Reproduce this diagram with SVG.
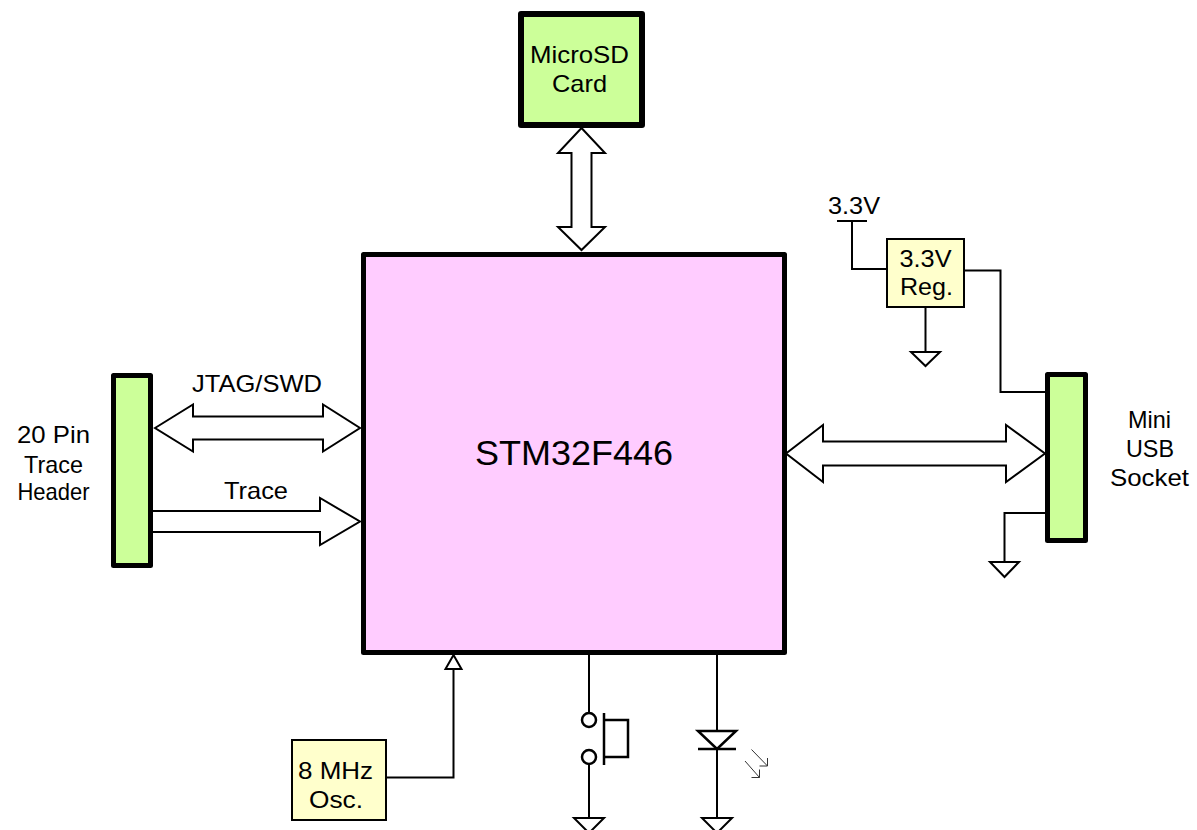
<svg xmlns="http://www.w3.org/2000/svg" width="1197" height="830" viewBox="0 0 1197 830">
<style>
text{font-family:"Liberation Sans",Arial,sans-serif;fill:#000}
.lbl{font-size:24px}
.c{text-anchor:middle}
.thick{stroke:#000;stroke-linejoin:round}
.green{fill:#ccff99}
.yel{fill:#ffffcc;stroke:#000;stroke-width:2}
.w{fill:none;stroke:#000;stroke-width:2}
.bus{fill:#fff;stroke:#000;stroke-width:2;stroke-linejoin:miter}
.gnd{fill:#fff;stroke:#000;stroke-width:2}
.thin{fill:none;stroke:#333;stroke-width:1}
</style>
<rect width="1197" height="830" fill="#fff"/>

<g id="connectors">
  <!-- buses -->
  <path class="bus" d="M581.5,128 L605,153 L591.5,153 L591.5,227 L605,227 L581.5,250 L558,227 L571.5,227 L571.5,153 L558,153 Z"/>
  <path class="bus" d="M155,428 L193,404.5 L193,416.5 L323,416.5 L323,404.5 L360,428 L323,451.5 L323,439.5 L193,439.5 L193,451.5 Z"/>
  <path class="bus" d="M153,511 L320,511 L320,498 L360,521.5 L320,545 L320,532 L153,532"/>
  <path class="bus" d="M786,453.5 L823,425 L823,441.5 L1006,441.5 L1006,425 L1045,453.5 L1006,482 L1006,465.5 L823,465.5 L823,482 Z"/>
  <text class="lbl c" x="257" y="392" textLength="130" lengthAdjust="spacingAndGlyphs">JTAG/SWD</text>
  <text class="lbl c" x="256" y="498.5" textLength="64" lengthAdjust="spacingAndGlyphs">Trace</text>

  <!-- power wiring -->
  <path class="w" d="M837,221 H867 M852,221 V269 H887"/>
  <text class="lbl" x="828" y="214" textLength="52" lengthAdjust="spacingAndGlyphs">3.3V</text>
  <path class="w" d="M964,270.5 H1000.5 V392 H1045"/>
  <path class="w" d="M925.5,307 V352"/>
  <polygon class="gnd" points="911,352 940,352 925.5,366"/>
  <path class="w" d="M1045,513 H1004.5 V562"/>
  <polygon class="gnd" points="990,562 1019,562 1004.5,577"/>

  <!-- oscillator -->
  <path class="w" d="M386,777.5 H453.5 V669"/>
  <polygon class="gnd" points="453.5,655 461.5,669 445.5,669"/>

  <!-- push button -->
  <path class="w" d="M589,655 V713 M589,764 V818"/>
  <circle cx="589" cy="720" r="7" fill="#fff" stroke="#000" stroke-width="2.5"/>
  <circle cx="589" cy="757" r="7" fill="#fff" stroke="#000" stroke-width="2.5"/>
  <path d="M604,713 V765 M604,720 H628 V757 H604" fill="none" stroke="#000" stroke-width="2.5"/>
  <polygon class="gnd" points="574,818 604,818 589,833"/>

  <!-- LED -->
  <path class="w" d="M717,655 V818"/>
  <polygon points="698,731 736,731 717,749" fill="#fff" stroke="#000" stroke-width="2.5" stroke-linejoin="miter"/>
  <path d="M698,749 H736" stroke="#000" stroke-width="2.5"/>
  <path class="thin" d="M751.5,749.5 L767.5,766 M767.5,758 V766 H759.5 M745,761 L759.5,777.5 M759.5,769.5 V777.5 H751.5"/>
  <polygon class="gnd" points="702,818 732,818 717,833"/>
</g>

<g id="microsd">
  <rect class="thick green" x="521" y="14" width="121" height="111" stroke-width="6"/>
  <text class="lbl c" x="579.5" y="63" textLength="99" lengthAdjust="spacingAndGlyphs">MicroSD</text>
  <text class="lbl c" x="579.5" y="92" textLength="55" lengthAdjust="spacingAndGlyphs">Card</text>
</g>

<g id="mcu">
  <rect class="thick" x="363.5" y="254.5" width="421" height="398" fill="#ffccff" stroke-width="5"/>
  <text class="c" x="574" y="465" font-size="35" textLength="198" lengthAdjust="spacingAndGlyphs">STM32F446</text>
</g>

<g id="trace-header">
  <rect class="thick green" x="113.5" y="375.5" width="37" height="190" stroke-width="5"/>
  <text class="lbl c" x="53.5" y="443" textLength="73" lengthAdjust="spacingAndGlyphs">20 Pin</text>
  <text class="lbl c" x="53.5" y="473" textLength="59" lengthAdjust="spacingAndGlyphs">Trace</text>
  <text class="lbl c" x="53.5" y="500" textLength="72" lengthAdjust="spacingAndGlyphs">Header</text>
</g>

<g id="usb-socket">
  <rect class="thick green" x="1047.5" y="374.5" width="38" height="166" stroke-width="5"/>
  <text class="lbl c" x="1149.5" y="428" textLength="43" lengthAdjust="spacingAndGlyphs">Mini</text>
  <text class="lbl c" x="1150" y="457" textLength="48" lengthAdjust="spacingAndGlyphs">USB</text>
  <text class="lbl c" x="1149.5" y="486" textLength="79" lengthAdjust="spacingAndGlyphs">Socket</text>
</g>

<g id="regulator">
  <rect class="yel" x="887" y="239" width="77" height="68"/>
  <text class="lbl c" x="925.5" y="267" textLength="52" lengthAdjust="spacingAndGlyphs">3.3V</text>
  <text class="lbl c" x="926.5" y="295" textLength="53" lengthAdjust="spacingAndGlyphs">Reg.</text>
</g>

<g id="oscillator">
  <rect class="yel" x="292" y="740" width="94" height="80"/>
  <text class="lbl c" x="335.5" y="779" textLength="75" lengthAdjust="spacingAndGlyphs">8 MHz</text>
  <text class="lbl c" x="336" y="808" textLength="54" lengthAdjust="spacingAndGlyphs">Osc.</text>
</g>
</svg>
